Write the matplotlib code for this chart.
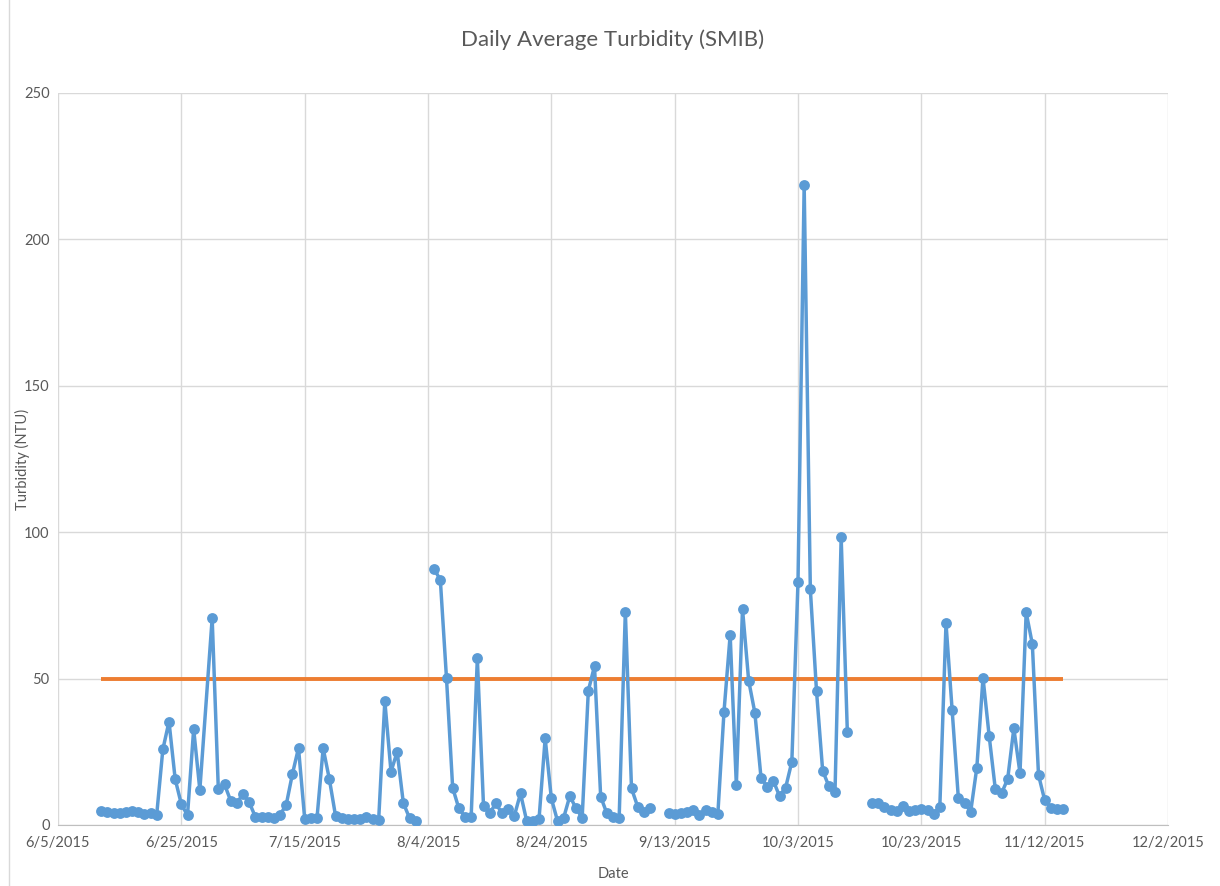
import numpy as np
import pandas as pd
import matplotlib
matplotlib.use('Agg')
import matplotlib.pyplot as plt
import matplotlib.dates as mdates
from matplotlib.ticker import FuncFormatter

DPI = 100

# Daily average turbidity (NTU), one value per day from 6/12/2015 to 11/15/2015.
# 6/29 has no row at all; NaN marks days with an empty cell (line breaks there).
start_date = '2015-06-12'
end_date = '2015-11-15'
no_row_dates = ['2015-06-29']
nan = np.nan
turbidity = [
    4.8, 4.4, 4.2, 4.0, 4.6, 4.7, 4.3, 3.6, 4.2, 3.4,          # 6/12 - 6/21
    25.8, 35.3, 15.7, 7.1, 3.3, 32.8, 12.0,                    # 6/22 - 6/28
    70.6, 12.2, 13.9, 8.3, 7.6, 10.5, 7.8, 2.8, 2.7, 2.6,      # 6/30 - 7/9
    2.3, 3.5, 6.8, 17.3, 26.3, 2.2, 2.3, 2.4, 26.2, 15.7,      # 7/10 - 7/19
    3.2, 2.3, 2.0, 2.0, 2.1, 2.6, 2.0, 1.8, 42.3, 18.2,        # 7/20 - 7/29
    25.0, 7.5, 2.4, 1.5, nan, nan, 87.4, 83.7, 50.1, 12.7,     # 7/30 - 8/8
    5.7, 2.8, 2.8, 56.9, 6.6, 4.0, 7.4, 4.0, 5.5, 3.1,         # 8/9 - 8/18
    10.8, 1.4, 1.4, 1.9, 29.6, 9.1, 1.4, 2.5, 9.9, 5.7,        # 8/19 - 8/28
    2.5, 45.9, 54.3, 9.7, 4.0, 2.8, 2.5, 72.9, 12.5, 6.3,      # 8/29 - 9/7
    4.5, 5.7, nan, nan, 4.0, 3.7, 4.0, 4.3, 5.1, 3.4,          # 9/8 - 9/17
    5.1, 4.3, 3.7, 38.7, 64.9, 13.7, 73.8, 49.3, 38.4, 16.2,   # 9/18 - 9/27
    13.1, 15.1, 9.9, 12.8, 21.6, 83.1, 218.5, 80.5, 45.8, 18.5,  # 9/28 - 10/7
    13.3, 11.2, 98.2, 31.9, nan, nan, nan, 7.6, 7.4, 6.3,      # 10/8 - 10/17
    5.1, 4.9, 6.5, 4.8, 5.1, 5.3, 5.1, 3.8, 6.3, 68.9,         # 10/18 - 10/27
    39.3, 9.3, 7.6, 4.5, 19.6, 50.3, 30.4, 12.2, 10.8, 15.7,   # 10/28 - 11/6
    33.0, 17.7, 72.6, 61.8, 17.1, 8.5, 5.9, 5.4, 5.4,          # 11/7 - 11/15
]

# Threshold line
threshold_dates = ['2015-06-12', '2015-11-15']
threshold = [50, 50]

# Axis settings
x_min, x_max = '2015-06-05', '2015-12-02'
tick_step_days = 20
y_ticks = [0, 50, 100, 150, 200, 250]

dates = pd.date_range(start_date, end_date).drop(pd.to_datetime(no_row_dates))

BLUE = '#5B9BD5'
ORANGE = '#ED7D31'
GRID = '#D9D9D9'
TEXT = '#595959'

plt.rcParams['font.family'] = ['Lato', 'DejaVu Sans']

fig = plt.figure(figsize=(1220 / DPI, 886 / DPI), dpi=DPI)
ax = fig.add_axes([58 / 1220, 61 / 886, 1110 / 1220, 732 / 886])

ax.plot(pd.to_datetime(threshold_dates), threshold, color=ORANGE, lw=2.8,
        solid_capstyle='butt', zorder=2)
ax.plot(dates, turbidity, color=BLUE, lw=2.5, marker='o', ms=7.8,
        markeredgewidth=0, zorder=3)

ax.set_xlim(pd.Timestamp(x_min), pd.Timestamp(x_max))
ax.set_ylim(0, 250)
ax.set_xticks(pd.date_range(x_min, x_max, freq=f'{tick_step_days}D'))
ax.xaxis.set_major_formatter(FuncFormatter(
    lambda v, pos: (lambda d: f'{d.month}/{d.day}/{d.year}')(mdates.num2date(v))))
ax.set_yticks(y_ticks)

ax.grid(True, color=GRID, lw=1)
ax.set_axisbelow(True)
for side in ['top', 'right', 'left']:
    ax.spines[side].set_visible(False)
ax.spines['bottom'].set_color('#BFBFBF')
ax.tick_params(length=0, labelsize=10.5, colors=TEXT, pad=8)
ax.tick_params(axis='y', pad=6)

ax.set_title('Daily Average Turbidity (SMIB)', fontsize=16, color=TEXT, pad=34)
ax.set_xlabel('Date', fontsize=10.5, color=TEXT, labelpad=12)
ax.set_ylabel('Turbidity (NTU)', fontsize=10.5, color=TEXT)
ax.yaxis.set_label_coords(-28 / 1110, 0.5)

# chart area border
fig.add_artist(plt.Line2D([9 / 1220, 9 / 1220], [0, 1], color=GRID, lw=1))

plt.savefig('out.png', dpi=DPI)
